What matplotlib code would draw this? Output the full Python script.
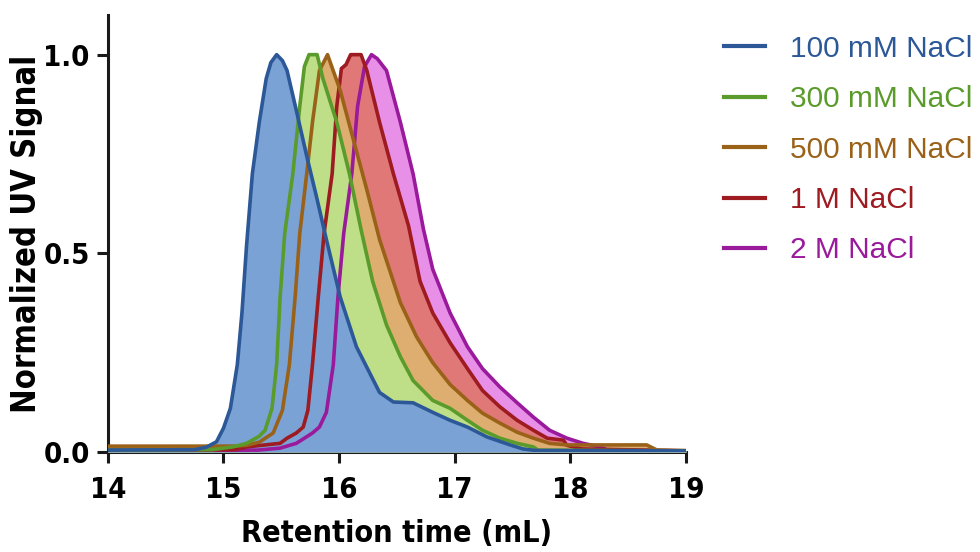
import matplotlib
matplotlib.use("Agg")
import matplotlib.pyplot as plt
from matplotlib import font_manager

# Digitised chromatograms (retention volume in mL, normalised signal)
labels = ["100 mM NaCl", "300 mM NaCl", "500 mM NaCl", "1 M NaCl", "2 M NaCl"]

x_100mM = [14.0, 14.75, 14.85, 14.94, 15.0, 15.06, 15.12, 15.16, 15.2, 15.25,
           15.31, 15.37, 15.41, 15.46, 15.51, 15.55, 15.63, 15.72, 15.81,
           15.89, 16.01, 16.15, 16.35, 16.47, 16.64, 16.81, 16.96, 17.11,
           17.28, 17.48, 17.59, 17.7, 19.0]
y_100mM = [0.005, 0.006, 0.012, 0.026, 0.06, 0.11, 0.22, 0.35, 0.52, 0.70,
           0.83, 0.94, 0.98, 1.0, 0.985, 0.96, 0.86, 0.745, 0.636,
           0.535, 0.39, 0.265, 0.15, 0.126, 0.124, 0.10, 0.08, 0.063,
           0.038, 0.018, 0.008, 0.004, 0.003]

x_300mM = [14.0, 14.9, 15.08, 15.2, 15.31, 15.36, 15.42, 15.46, 15.49, 15.53,
           15.60, 15.66, 15.70, 15.74, 15.81, 15.86, 15.98, 16.09, 16.19,
           16.29, 16.41, 16.53, 16.64, 16.81, 16.96, 17.11, 17.24, 17.39,
           17.54, 17.68, 17.72, 19.0]
y_300mM = [0.005, 0.006, 0.013, 0.022, 0.04, 0.055, 0.11, 0.22, 0.39, 0.55,
           0.70, 0.87, 0.97, 1.0, 1.0, 0.94, 0.83, 0.70, 0.56,
           0.43, 0.32, 0.24, 0.18, 0.13, 0.11, 0.08, 0.055, 0.035,
           0.022, 0.013, 0.005, 0.003]

x_500mM = [14.0, 15.1, 15.2, 15.31, 15.43, 15.51, 15.57, 15.62, 15.66, 15.72,
           15.77, 15.83, 15.90, 16.01, 16.12, 16.24, 16.35, 16.53, 16.67,
           16.81, 16.96, 17.11, 17.24, 17.39, 17.54, 17.68, 17.82, 17.97,
           18.66, 18.75, 19.0]
y_500mM = [0.015, 0.015, 0.017, 0.025, 0.048, 0.105, 0.22, 0.39, 0.55, 0.70,
           0.83, 0.96, 1.0, 0.91, 0.79, 0.66, 0.535, 0.376, 0.29,
           0.225, 0.17, 0.13, 0.098, 0.073, 0.05, 0.035, 0.022, 0.018,
           0.018, 0.005, 0.004]

x_1M = [14.0, 15.1, 15.2, 15.49, 15.55, 15.63, 15.69, 15.73, 15.77, 15.82,
        15.87, 15.94, 15.98, 16.02, 16.06, 16.10, 16.19, 16.24, 16.35, 16.47,
        16.60, 16.70, 16.81, 16.96, 17.11, 17.24, 17.39, 17.54, 17.68, 17.80,
        17.94, 17.97, 18.1, 19.0]
y_1M = [0.005, 0.006, 0.013, 0.022, 0.035, 0.048, 0.063, 0.105, 0.22, 0.39,
        0.55, 0.70, 0.87, 0.965, 0.975, 1.0, 1.0, 0.96, 0.83, 0.70,
        0.57, 0.43, 0.35, 0.275, 0.21, 0.155, 0.114, 0.08, 0.055, 0.035,
        0.03, 0.017, 0.008, 0.003]

x_2M = [14.0, 15.3, 15.49, 15.63, 15.77, 15.83, 15.89, 15.95, 15.99, 16.04,
        16.11, 16.16, 16.22, 16.28, 16.33, 16.41, 16.53, 16.64, 16.73, 16.81,
        16.96, 17.11, 17.24, 17.39, 17.54, 17.68, 17.82, 17.97, 18.11, 18.26,
        18.32, 19.0]
y_2M = [0.004, 0.005, 0.01, 0.022, 0.048, 0.063, 0.10, 0.22, 0.39, 0.55,
        0.70, 0.87, 0.97, 1.0, 0.99, 0.96, 0.83, 0.70, 0.56, 0.46,
        0.35, 0.265, 0.21, 0.164, 0.124, 0.088, 0.055, 0.035, 0.022, 0.013,
        0.005, 0.003]

xs = [x_100mM, x_300mM, x_500mM, x_1M, x_2M]
ys = [y_100mM, y_300mM, y_500mM, y_1M, y_2M]
line_colors = ["#2C5898", "#5A9B2B", "#9A6219", "#9D1B21", "#9A1A9C"]
fill_colors = ["#7BA2D5", "#BEDE88", "#DDAE70", "#E07878", "#E890E8"]

# axis text in the original is a bold condensed sans
narrow = font_manager.FontProperties(family=['DejaVu Sans'], stretch='condensed',
                                     weight='bold')
plt.rcParams['font.family'] = ['Liberation Sans', 'DejaVu Sans']

fig = plt.figure(figsize=(9.8, 5.52), dpi=100)
ax = fig.add_axes([0.110, 0.181, 0.590, 0.792])

# fills: back to front (2 M at the back, 100 mM on top)
for i in reversed(range(len(xs))):
    ax.fill_between(xs[i], ys[i], 0, color=fill_colors[i], lw=0, zorder=1 + (4 - i))
# outlines above all fills
for i in reversed(range(len(xs))):
    ax.plot(xs[i], ys[i], color=line_colors[i], lw=2.6, label=labels[i],
            solid_joinstyle='round', zorder=10 + (4 - i))

ax.set_xlim(14, 19)
ax.set_ylim(0, 1.1)
ax.set_xticks([14, 15, 16, 17, 18, 19])
ax.set_yticks([0.0, 0.5, 1.0])
ax.set_yticklabels(["0.0", "0.5", "1.0"])

for side in ["top", "right"]:
    ax.spines[side].set_visible(False)
for side in ["left", "bottom"]:
    ax.spines[side].set_linewidth(2.2)
    ax.spines[side].set_color("#1a1a1a")
ax.tick_params(width=2.2, length=8, color="#1a1a1a")
ax.tick_params(axis='x', pad=9)
ax.tick_params(axis='y', pad=5)
for lab in ax.get_xticklabels() + ax.get_yticklabels():
    lab.set_fontproperties(narrow)
    lab.set_fontsize(21)

ax.set_xlabel("Retention time (mL)", fontproperties=narrow, fontsize=22)
ax.set_ylabel("Normalized UV Signal", fontproperties=narrow, fontsize=23.5)
ax.xaxis.set_label_coords(0.5, -0.152)
ax.yaxis.set_label_coords(-0.112, 0.5)

handles, labs = ax.get_legend_handles_labels()
order = [labs.index(l) for l in labels]
leg = ax.legend([handles[k] for k in order], labels,
                loc="upper left", bbox_to_anchor=(0.739, 0.937),
                bbox_transform=fig.transFigure, frameon=False,
                prop={'family': ['Liberation Sans', 'DejaVu Sans'], 'size': 21.5},
                handlelength=1.35, handletextpad=0.85, labelspacing=0.75,
                borderaxespad=0, borderpad=0, labelcolor="linecolor")
for ln in leg.get_lines():
    ln.set_linewidth(3)

fig.savefig("out.png", dpi=100)
